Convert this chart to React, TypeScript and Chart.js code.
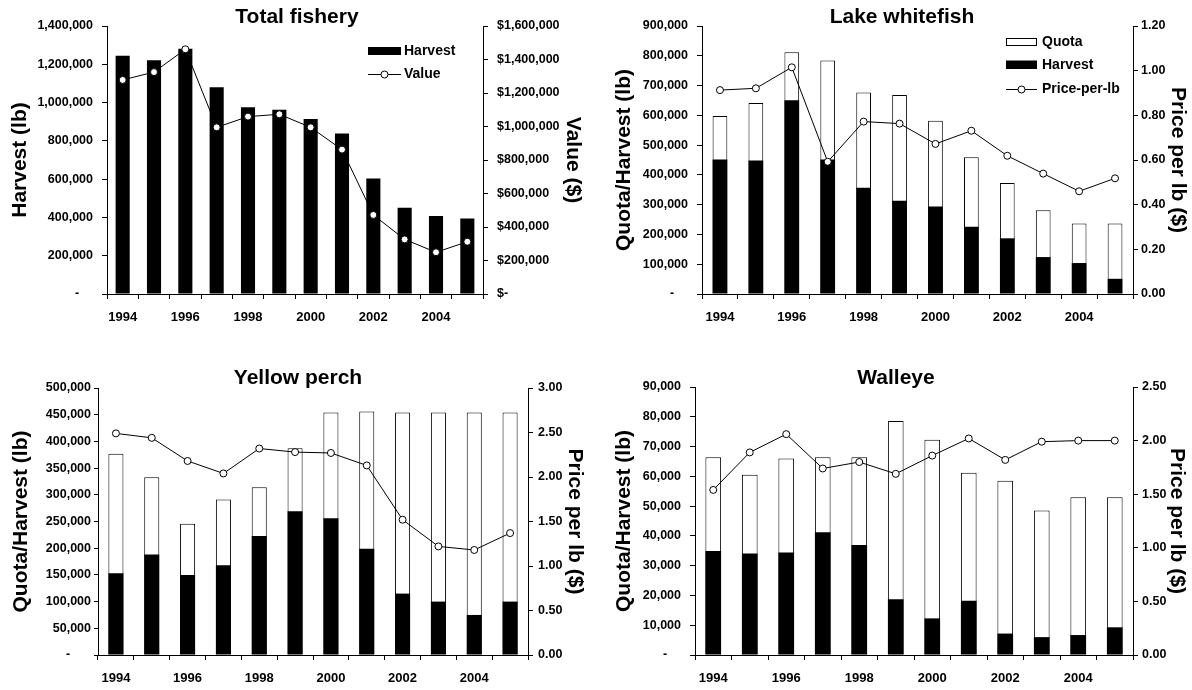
import React, { useEffect, useRef } from 'react';
import { Chart, registerables } from 'chart.js';

Chart.register(...registerables);

const FONT = '"Liberation Sans", Arial, Helvetica, sans-serif';

// ---------------- data ----------------
const years = ['1994', '1995', '1996', '1997', '1998', '1999', '2000', '2001', '2002', '2003', '2004', '2005'];

const totalHarvest = [1245000, 1221000, 1281000, 1080000, 975000, 963000, 914000, 839000, 604000, 451000, 407000, 395000];
const totalValue = [1278000, 1325000, 1461000, 995000, 1059000, 1073000, 995000, 862000, 472000, 326000, 249000, 312000];

const whitefishQuota = [598000, 641000, 812000, 784000, 677000, 668000, 582000, 459000, 373000, 281000, 237000, 237000];
const whitefishHarvest = [452000, 448000, 651000, 452000, 357000, 313000, 294000, 226000, 187000, 124000, 104000, 51000];
const whitefishPrice = [0.913, 0.921, 1.015, 0.592, 0.772, 0.763, 0.672, 0.731, 0.619, 0.539, 0.46, 0.518];

const perchQuota = [377000, 333000, 246000, 291000, 314000, 387000, 454000, 456000, 454000, 454000, 454000, 454000];
const perchHarvest = [153000, 188000, 150000, 168000, 223000, 269000, 256000, 199000, 115000, 100000, 75000, 100000];
const perchPrice = [2.49, 2.44, 2.18, 2.04, 2.32, 2.28, 2.27, 2.13, 1.52, 1.22, 1.18, 1.37];

const walleyeQuota = [66400, 60500, 66000, 66400, 66400, 78600, 72300, 61200, 58500, 48500, 53000, 53000];
const walleyeHarvest = [34900, 34100, 34400, 41200, 36900, 18700, 12300, 18200, 7200, 6000, 6700, 9300];
const walleyePrice = [1.54, 1.89, 2.06, 1.74, 1.8, 1.69, 1.86, 2.02, 1.82, 1.99, 2.0, 2.0];

// ---------------- helpers ----------------
const W = 596;
const H = 345;

const lbFmt = (pad: number) => (v: number) =>
  v === 0 ? '-' + ' '.repeat(pad) : Number(v).toLocaleString('en-US');
const dollarFmt = (v: number) => (v === 0 ? '$-' : '$' + Number(v).toLocaleString('en-US'));
const priceFmt = (v: number) => Number(v).toFixed(2);

type LegendItem = { kind: 'box' | 'line'; fill?: string; label: string; y: number };

interface PanelProps {
  left: number;
  top: number;
  area: { l: number; t: number; r: number; b: number };
  title: string;
  titleX: number;
  titleY: number;
  leftTitle: string;
  rightTitle: string;
  leftTitleOffset: number;
  rightTitleOffset: number;
  leftMax: number;
  leftStep: number;
  rightMax: number;
  rightStep: number;
  leftFmt: (v: number) => string;
  rightFmt: (v: number) => string;
  leftTick: { len: number; pad: number };
  rightTick: { len: number; pad: number };
  quota?: number[];
  harvest: number[];
  line: number[];
  lineLabel: string;
  barPct: number;
  legend: LegendItem[];
  legendBoxX: number;
  legendBoxW: number;
  legendTextX: number;
}

function Panel(p: PanelProps) {
  const ref = useRef<HTMLCanvasElement>(null);

  useEffect(() => {
    const canvas = ref.current;
    if (!canvas) return;

    const overlay = {
      id: 'overlay',
      afterDraw(chart: any) {
        const c = chart.ctx as CanvasRenderingContext2D;
        c.save();
        c.fillStyle = '#000';
        c.font = `bold 21px ${FONT}`;
        c.textAlign = 'center';
        c.textBaseline = 'middle';
        c.fillText(p.title, p.titleX, p.titleY);

        c.font = `bold 14px ${FONT}`;
        c.textAlign = 'left';
        p.legend.forEach((item) => {
          const x = p.legendBoxX;
          const w = p.legendBoxW;
          if (item.kind === 'box') {
            const h = 8;
            c.fillStyle = item.fill || '#000';
            c.fillRect(x, item.y - h / 2, w, h);
            c.strokeStyle = '#000';
            c.lineWidth = 1;
            c.strokeRect(x + 0.5, Math.round(item.y - h / 2) + 0.5, w - 1, h - 1);
          } else {
            c.strokeStyle = '#000';
            c.lineWidth = 1;
            c.beginPath();
            c.moveTo(x, Math.round(item.y) + 0.5);
            c.lineTo(x + w, Math.round(item.y) + 0.5);
            c.stroke();
            c.beginPath();
            c.arc(x + w / 2, item.y + 0.5, 3.5, 0, Math.PI * 2);
            c.fillStyle = '#fff';
            c.fill();
            c.stroke();
          }
          c.fillStyle = '#000';
          c.fillText(item.label, p.legendTextX, item.y + 0.5);
        });
        c.restore();
      },
    };

    const datasets: any[] = [
      {
        type: 'line',
        label: p.lineLabel,
        data: p.line,
        yAxisID: 'y1',
        borderColor: '#000',
        borderWidth: 1,
        pointRadius: 3.5,
        pointBackgroundColor: '#fff',
        pointBorderColor: '#000',
        pointBorderWidth: 1,
        tension: 0,
        order: 0,
      },
      {
        type: 'bar',
        label: 'Harvest',
        data: p.harvest,
        yAxisID: 'y',
        backgroundColor: '#000',
        borderColor: '#000',
        borderWidth: 0,
        grouped: false,
        barPercentage: p.barPct,
        categoryPercentage: 1,
        order: 1,
      },
    ];
    if (p.quota) {
      datasets.push({
        type: 'bar',
        label: 'Quota',
        data: p.quota,
        yAxisID: 'y',
        backgroundColor: '#fff',
        borderColor: '#000',
        borderWidth: 1,
        grouped: false,
        barPercentage: p.barPct,
        categoryPercentage: 1,
        order: 2,
      });
    }

    const tickFont = { family: FONT, size: 12.5, weight: 'bold' as const };
    const titleFont = { family: FONT, size: 21, weight: 'bold' as const };

    const chart = new Chart(canvas, {
      type: 'bar',
      data: { labels: years, datasets },
      options: {
        responsive: false,
        animation: false,
        devicePixelRatio: 1,
        layout: { padding: { top: p.area.t, left: 0, right: 0, bottom: 0 } },
        plugins: {
          legend: { display: false },
          tooltip: { enabled: false },
          title: { display: false },
        },
        scales: {
          x: {
            type: 'category',
            offset: true,
            grid: {
              display: true,
              offset: true,
              drawOnChartArea: false,
              drawTicks: true,
              tickLength: 5,
              tickColor: '#000',
            },
            border: { display: true, color: '#000', width: 1 },
            ticks: {
              autoSkip: false,
              maxRotation: 0,
              minRotation: 0,
              padding: 11,
              color: '#000',
              font: { family: FONT, size: 13, weight: 'bold' },
              callback: (_v: any, i: number) => (i % 2 === 0 ? years[i] : ''),
            },
            afterFit: (s: any) => {
              s.height = H - p.area.b;
            },
          },
          y: {
            type: 'linear',
            position: 'left',
            min: 0,
            max: p.leftMax,
            grid: {
              display: true,
              drawOnChartArea: false,
              drawTicks: true,
              tickLength: p.leftTick.len,
              tickColor: '#000',
            },
            border: { display: true, color: '#000', width: 1 },
            ticks: {
              stepSize: p.leftStep,
              padding: p.leftTick.pad,
              color: '#000',
              font: tickFont,
              callback: (v: any) => p.leftFmt(Number(v)),
            },
            title: {
              display: true,
              text: p.leftTitle,
              color: '#000',
              font: titleFont,
              padding: { top: p.leftTitleOffset - 12.6, bottom: 0 },
            },
            afterFit: (s: any) => {
              s.width = p.area.l;
            },
          },
          y1: {
            type: 'linear',
            position: 'right',
            min: 0,
            max: p.rightMax,
            grid: {
              display: true,
              drawOnChartArea: false,
              drawTicks: true,
              tickLength: p.rightTick.len,
              tickColor: '#000',
            },
            border: { display: true, color: '#000', width: 1 },
            ticks: {
              stepSize: p.rightStep,
              padding: p.rightTick.pad,
              color: '#000',
              font: tickFont,
              callback: (v: any) => p.rightFmt(Number(v)),
            },
            title: {
              display: true,
              text: p.rightTitle,
              color: '#000',
              font: titleFont,
              padding: { top: p.rightTitleOffset - 12.6, bottom: 0 },
            },
            afterFit: (s: any) => {
              s.width = W - p.area.r;
            },
          },
        },
      } as any,
      plugins: [overlay],
    });

    return () => chart.destroy();
  }, []);

  return (
    <canvas
      ref={ref}
      width={W}
      height={H}
      style={{ position: 'absolute', left: p.left, top: p.top, width: W, height: H }}
    />
  );
}

export default function App() {
  return (
    <div
      style={{
        position: 'fixed',
        left: 0,
        top: 0,
        width: 1192,
        height: 690,
        background: '#fff',
        overflow: 'hidden',
      }}
    >
      <Panel
        left={0}
        top={0}
        area={{ l: 107, t: 26, r: 483, b: 294 }}
        title="Total fishery"
        titleX={297}
        titleY={17.5}
        leftTitle="Harvest (lb)"
        rightTitle="Value ($)"
        leftTitleOffset={20}
        rightTitleOffset={23}
        leftMax={1400000}
        leftStep={200000}
        rightMax={1600000}
        rightStep={200000}
        leftFmt={lbFmt(4)}
        rightFmt={dollarFmt}
        leftTick={{ len: 5, pad: 9 }}
        rightTick={{ len: 5, pad: 9 }}
        harvest={totalHarvest}
        line={totalValue}
        lineLabel="Value"
        barPct={0.45}
        legend={[
          { kind: 'box', fill: '#000', label: 'Harvest', y: 51 },
          { kind: 'line', label: 'Value', y: 74 },
        ]}
        legendBoxX={368}
        legendBoxW={33}
        legendTextX={404}
      />
      <Panel
        left={596}
        top={0}
        area={{ l: 106, t: 26, r: 537, b: 294 }}
        title="Lake whitefish"
        titleX={306}
        titleY={17.5}
        leftTitle="Quota/Harvest (lb)"
        rightTitle="Price per lb ($)"
        leftTitleOffset={28}
        rightTitleOffset={14}
        leftMax={900000}
        leftStep={100000}
        rightMax={1.2}
        rightStep={0.2}
        leftFmt={lbFmt(4)}
        rightFmt={priceFmt}
        leftTick={{ len: 5, pad: 9 }}
        rightTick={{ len: 5, pad: 3 }}
        quota={whitefishQuota}
        harvest={whitefishHarvest}
        line={whitefishPrice}
        lineLabel="Price-per-lb"
        barPct={0.41}
        legend={[
          { kind: 'box', fill: '#fff', label: 'Quota', y: 42 },
          { kind: 'box', fill: '#000', label: 'Harvest', y: 64.5 },
          { kind: 'line', label: 'Price-per-lb', y: 89 },
        ]}
        legendBoxX={410}
        legendBoxW={31}
        legendTextX={446}
      />
      <Panel
        left={0}
        top={345}
        area={{ l: 98, t: 43, r: 528, b: 310 }}
        title="Yellow perch"
        titleX={298}
        titleY={33.5}
        leftTitle="Quota/Harvest (lb)"
        rightTitle="Price per lb ($)"
        leftTitleOffset={21}
        rightTitleOffset={21}
        leftMax={500000}
        leftStep={50000}
        rightMax={3}
        rightStep={0.5}
        leftFmt={lbFmt(6)}
        rightFmt={priceFmt}
        leftTick={{ len: 4, pad: 3 }}
        rightTick={{ len: 5, pad: 5 }}
        quota={perchQuota}
        harvest={perchHarvest}
        line={perchPrice}
        lineLabel="Price-per-lb"
        barPct={0.42}
        legend={[]}
        legendBoxX={0}
        legendBoxW={0}
        legendTextX={0}
      />
      <Panel
        left={596}
        top={345}
        area={{ l: 99, t: 42, r: 537, b: 310 }}
        title="Walleye"
        titleX={300}
        titleY={33.5}
        leftTitle="Quota/Harvest (lb)"
        rightTitle="Price per lb ($)"
        leftTitleOffset={28}
        rightTitleOffset={15}
        leftMax={90000}
        leftStep={10000}
        rightMax={2.5}
        rightStep={0.5}
        leftFmt={lbFmt(4)}
        rightFmt={priceFmt}
        leftTick={{ len: 5, pad: 9 }}
        rightTick={{ len: 5, pad: 4 }}
        quota={walleyeQuota}
        harvest={walleyeHarvest}
        line={walleyePrice}
        lineLabel="Price-per-lb"
        barPct={0.43}
        legend={[]}
        legendBoxX={0}
        legendBoxW={0}
        legendTextX={0}
      />
    </div>
  );
}
